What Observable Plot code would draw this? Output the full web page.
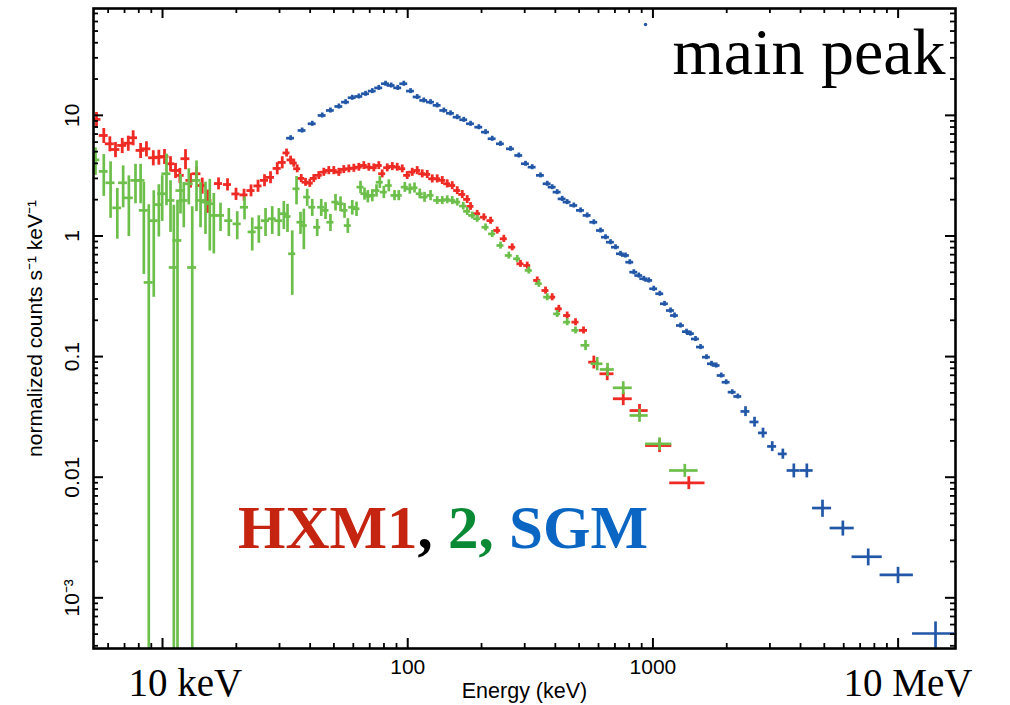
<!DOCTYPE html>
<html>
<head>
<meta charset="utf-8">
<script src="https://cdn.jsdelivr.net/npm/d3@7"></script>
<script src="https://cdn.jsdelivr.net/npm/@observablehq/plot@0.6"></script>
<style>
  html, body { margin: 0; padding: 0; background: #fff; }
  #chart { position: relative; width: 1010px; height: 705px; }
  #instruments {
    position: absolute; left: 238px; top: 497px;
    font: bold 61px "Liberation Serif", "Times New Roman", serif;
    line-height: 61px; white-space: nowrap;
  }
</style>
</head>
<body>
<div id="chart">
  <div id="instruments"><span style="color:#c42410">HXM1</span><span style="color:#000">, </span><span style="color:#0b8a36">2, </span><span style="color:#0a66c2">SGM</span></div>
</div>
<script>
// Main-peak spectra. Columns: energy (keV), half bin width (keV),
// normalized rate (counts s^-1 keV^-1), 1-sigma error.
const hxm1 = [
  [5.38,0.23,9.25,1.32],[5.76,0.24,6.81,0.97],[6.10,0.26,5.81,0.83],[6.43,0.27,5.21,0.75],
  [6.85,0.29,5.63,0.81],[7.25,0.30,5.88,0.84],[7.59,0.32,6.52,0.93],[8.14,0.34,5.12,0.73],
  [8.60,0.36,5.28,0.76],[9.17,0.39,4.45,0.64],[9.66,0.41,4.50,0.64],[10.19,0.43,4.56,0.65],
  [10.78,0.45,3.97,0.57],[11.30,0.47,3.49,0.50],[11.77,0.49,3.18,0.45],[12.41,0.52,4.37,0.83],
  [13.01,0.55,2.89,0.40],[13.76,0.58,3.28,0.46],[14.52,0.61,2.62,0.40],[15.26,0.64,1.97,0.43],
  [16.92,0.64,2.72,0.31],[18.41,0.70,2.67,0.31],[19.94,0.76,2.23,0.26],[21.50,0.82,2.19,0.25],
  [22.96,0.87,2.38,0.27],[24.52,0.93,2.60,0.30],[26.06,0.99,2.89,0.33],[27.57,1.05,3.06,0.35],
  [29.37,1.12,3.63,0.42],[30.78,1.17,4.07,0.47],[32.05,1.06,4.88,0.37],[33.30,1.10,4.27,0.32],
  [34.31,1.13,4.02,0.31],[35.43,1.17,3.61,0.27],[36.79,1.21,3.00,0.23],[38.30,1.26,2.79,0.21],
  [39.87,1.32,2.74,0.21],[41.40,1.37,3.00,0.23],[43.39,1.43,3.18,0.24],[45.48,1.50,3.38,0.26],
  [47.66,1.57,3.49,0.27],[49.95,1.65,3.49,0.27],[52.36,1.73,3.38,0.26],[54.87,1.81,3.56,0.27],
  [57.51,1.90,3.61,0.27],[60.28,1.99,3.65,0.28],[63.18,2.08,3.72,0.28],[66.22,2.19,3.84,0.29],
  [69.40,2.29,3.72,0.28],[72.74,2.40,3.68,0.28],[76.24,2.52,3.84,0.29],[78.70,2.60,3.28,0.25],
  [82.50,2.72,3.68,0.28],[86.50,2.85,3.77,0.29],[90.60,2.99,3.72,0.28],[95.00,3.14,3.61,0.27],
  [99.50,3.28,3.18,0.24],[104.3,3.44,3.38,0.26],[109.3,3.61,3.49,0.27],[114.6,3.78,3.28,0.25],
  [120.1,3.96,3.24,0.25],[125.9,4.15,2.98,0.23],[131.9,4.35,2.98,0.23],[138.3,4.56,2.89,0.22],
  [144.9,4.78,2.71,0.21],[151.9,5.01,2.62,0.20],[159.2,5.25,2.38,0.18],[166.9,5.51,2.21,0.17],
  [174.8,5.77,2.01,0.15],[180.4,5.95,1.76,0.13],[192.0,6.34,1.53,0.10],[204.4,6.75,1.43,0.096],
  [217.7,7.18,1.34,0.090],[231.7,7.65,1.11,0.074],[246.6,8.14,0.948,0.064],[266.8,8.8,0.807,0.054],
  [288.4,9.5,0.588,0.039],[307.2,10.1,0.569,0.038],[337.5,11.1,0.428,0.029],[364.8,12.0,0.353,0.024],
  [388.4,12.8,0.311,0.021],[413.3,13.6,0.249,0.017],[447.0,14.8,0.219,0.015],[483.4,16.0,0.193,0.013],
  [521.2,19.8,0.165,0.011],[574.1,27,0.0899,0.011],[651.2,43,0.0720,0.0089],[756.8,67,0.0447,0.0055],
  [881.8,75,0.0357,0.0044],[1064,130,0.0183,0.0023],[1401,230,0.00899,0.0011]
];

const hxm2 = [
  [5.33,0.22,4.28,1.10],[5.76,0.24,3.43,1.30],[6.14,0.26,2.76,1.36],[6.54,0.27,1.71,0.77],
  [6.91,0.29,2.76,1.05],[7.29,0.31,2.07,1.08],[7.76,0.33,2.89,1.04],[8.14,0.34,2.89,1.04],
  [8.39,0.35,1.63,1.15],[8.79,0.37,0.412,1.40],[9.21,0.39,1.34,1.03],[9.66,0.41,1.82,0.84],
  [9.97,0.42,2.24,0.92],[10.38,0.44,3.28,1.50],[10.78,0.45,1.97,0.90],[11.12,0.47,0.548,1.25],
  [11.51,0.48,0.918,1.06],[11.84,0.50,2.38,0.86],[12.21,0.51,1.97,0.80],[12.80,0.54,2.71,0.90],
  [13.22,0.56,0.548,1.20],[13.76,0.58,2.89,1.30],[14.29,0.60,1.97,0.80],[14.97,0.63,1.91,0.88],
  [15.59,0.65,1.85,1.10],[16.19,0.62,1.48,0.77],[17.24,0.66,1.48,0.39],[18.64,0.71,1.34,0.35],
  [20.17,0.77,1.26,0.33],[21.60,0.82,1.73,0.37],[23.22,0.88,1.08,0.33],[24.70,0.94,1.17,0.30],
  [26.31,1.00,1.34,0.35],[28.02,1.06,1.39,0.36],[29.81,1.13,1.34,0.35],[31.24,1.19,1.53,0.40],
  [32.34,1.07,1.45,0.38],[33.81,1.12,0.712,0.39],[35.20,1.16,2.46,0.65],[36.54,1.21,1.30,0.27],
  [37.70,1.24,1.22,0.45],[38.91,1.28,2.10,0.34],[40.80,1.35,1.73,0.28],[42.75,1.41,1.18,0.19],
  [44.38,1.46,1.73,0.28],[46.22,1.53,1.63,0.26],[48.40,1.60,1.30,0.21],[50.76,1.68,1.91,0.30],
  [53.20,1.76,1.85,0.26],[55.25,1.82,1.63,0.23],[56.99,1.88,1.22,0.17],[59.40,1.96,1.73,0.24],
  [61.83,2.04,1.68,0.23],[64.20,2.12,2.54,0.30],[66.66,2.20,2.24,0.26],[68.76,2.27,2.13,0.25],
  [71.70,2.37,2.17,0.25],[74.60,2.46,2.38,0.28],[76.96,2.54,2.79,0.32],[79.90,2.64,2.31,0.27],
  [83.72,2.76,2.62,0.30],[88.35,2.92,2.17,0.21],[91.95,3.03,2.17,0.21],[97.30,3.21,2.54,0.24],
  [102.0,3.37,2.46,0.24],[106.6,3.52,2.51,0.24],[112.0,3.70,2.24,0.21],[117.1,3.86,2.10,0.20],
  [123.9,4.09,2.17,0.21],[131.9,4.35,1.97,0.15],[138.3,4.56,1.97,0.15],[144.9,4.78,2.00,0.15],
  [151.9,5.01,1.97,0.15],[159.2,5.25,1.91,0.14],[168.4,5.56,1.77,0.13],[174.8,5.77,1.60,0.12],
  [183.2,6.05,1.48,0.10],[192.0,6.34,1.39,0.093],[207.7,6.85,1.18,0.079],[221.1,7.3,1.04,0.070],
  [239.0,7.9,0.834,0.056],[258.4,8.5,0.689,0.046],[279.6,9.2,0.647,0.043],[311.8,10.3,0.518,0.035],
  [342.6,11.3,0.402,0.027],[370.6,12.2,0.311,0.021],[407.0,13.4,0.226,0.015],[447.0,14.8,0.193,0.013],
  [483.4,16.0,0.165,0.011],[531.1,22,0.124,0.012],[592.7,33,0.0872,0.011],[653.0,43,0.0782,0.0097],
  [756.8,67,0.0551,0.0068],[881.8,75,0.0325,0.0040],[1064,130,0.0189,0.0023],[1349,180,0.01137,0.0014]
];

const sgm = [
  [33.3,1.23,6.47,0.31],[37.1,1.37,7.49,0.36],[40.8,1.51,8.52,0.41],[44.8,1.66,9.98,0.48],
  [48.4,1.79,10.98,0.53],[52.4,1.94,11.85,0.57],[55.8,2.06,12.87,0.62],[59.4,2.20,14.0,0.67],
  [63.2,2.34,14.35,0.69],[67.3,2.49,15.1,0.72],[71.7,2.65,15.9,0.76],[76.2,2.82,16.9,0.81],
  [81.2,3.0,18.3,0.88],[85.6,3.17,17.7,0.85],[91.1,3.37,16.9,0.81],[96.4,3.57,18.3,0.88],
  [102.7,3.8,15.9,0.76],[109.3,4.04,14.2,0.68],[116.3,4.3,13.3,0.64],[123.9,4.58,12.87,0.62],
  [131.9,4.88,12.1,0.58],[140.4,5.19,10.98,0.53],[149.5,5.53,10.4,0.50],[159.2,5.89,9.66,0.46],
  [169.3,6.26,9.19,0.44],[180.4,6.67,8.52,0.41],[195.0,7.2,7.98,0.38],[207.7,7.7,7.26,0.35],
  [221.1,8.2,6.40,0.31],[239.0,8.8,5.81,0.28],[262.6,9.7,5.28,0.25],[283.9,10.5,4.65,0.22],
  [302.3,11.2,3.97,0.19],[321.9,11.9,3.72,0.18],[348.0,12.9,3.18,0.15],[370.6,13.7,2.71,0.13],
  [388.4,14.4,2.54,0.12],[407.0,15.1,2.31,0.11],[426.6,15.8,2.03,0.10],[447.0,16.5,1.91,0.092],
  [475.8,17.6,1.79,0.086],[506.8,18.8,1.63,0.078],[539.5,20.0,1.48,0.071],[574.1,21.2,1.30,0.062],
  [611.4,22.6,1.11,0.053],[641.0,23.7,0.977,0.047],[671.6,24.8,0.888,0.043],[703.8,26.0,0.807,0.039],
  [737.5,27.3,0.712,0.034],[773.0,28.6,0.689,0.033],[805.0,29.8,0.606,0.029],[835.9,30.9,0.501,0.024],
  [876.0,32.4,0.470,0.023],[918.3,34.0,0.442,0.021],[962.0,35.6,0.428,0.021],[1008,37.3,0.365,0.018],
  [1067,39.5,0.332,0.016],[1115,41.3,0.274,0.013],[1180,43.7,0.241,0.012],[1225,45.3,0.219,0.011],
  [1296,48.0,0.181,0.0087],[1371,50.7,0.161,0.0077],[1423,52.7,0.155,0.0074],[1492,55.2,0.140,0.0067],
  [1564,57.9,0.120,0.0058],[1654,61.2,0.0989,0.0047],[1734,64.2,0.0872,0.0042],[1812,67.0,0.0844,0.0041],
  [1899,70.3,0.0697,0.0033],[1990,73.6,0.0613,0.0029],[2106,78,0.0507,0.0024],[2220,82,0.0467,0.0022],
  [2386,100,0.0351,0.0033],[2597,109,0.0287,0.0027],[2812,118,0.0233,0.0022],[3066,129,0.0180,0.0017],
  [3387,142,0.0156,0.0015],[3755,229,0.01137,0.0015],[4243,259,0.01137,0.0015],[4916,438,0.00555,0.0009],
  [5951,672,0.00379,0.00054],[7552,1065,0.00219,0.00035],[9991,1549,0.00155,0.00024],[14210,2760,0.000506,0.000125]
];

// a lone high SGM bin near 1 MeV
const sgmStray = [[933, 56.7]];

const xTickLabels = [100, 1000];
const yTickLabels = [[10, "10"], [1, "1"], [0.1, "0.1"], [0.01, "0.01"], [0.001, "10⁻³"]];

const xDomain = [5.23, 17140];
const yDomain = [3.8e-4, 76.9];

const RED = "#ee2a24", GREEN = "#6dbf4b", BLUE = "#2257a7";
const SANS = '"Liberation Sans", Arial, Helvetica, sans-serif';
const SERIF = '"Liberation Serif", "Times New Roman", serif';

const W = 1010, H = 705;
const M = {top: 8, right: 55, bottom: 57, left: 93};
const plotW = W - M.left - M.right, plotH = H - M.top - M.bottom;

const toRows = (arr) => arr.map(([e, de, r, dr]) => ({
  e, lo: e - de, hi: e + de, r,
  rlo: Math.max(r - dr, yDomain[0]), rhi: r + dr
}));

// energy bar + rate error bar for every bin
const crosses = (rows, color, sw) => [
  Plot.ruleY(rows, {y: "r", x1: "lo", x2: "hi", stroke: color, strokeWidth: sw, clip: true}),
  Plot.ruleX(rows, {x: "e", y1: "rlo", y2: "rhi", stroke: color, strokeWidth: sw, clip: true})
];

const inRange = (v, [a, b]) => v > a * 1.0001 && v < b * 0.9999;
const xMajor = [10, 100, 1000, 10000];
const xMinor = [1, 10, 100, 1000, 10000]
  .flatMap(d => d3.range(2, 10).map(k => k * d)).filter(v => inRange(v, xDomain));
const yMajor = [0.001, 0.01, 0.1, 1, 10];
const yMinor = [0.0001, 0.001, 0.01, 0.1, 1, 10]
  .flatMap(d => d3.range(2, 10).map(k => k * d)).filter(v => inRange(v, yDomain));

// inward ticks on all four sides
const MAJ = 10, MIN = 5;
const ticks = [
  Plot.tickX(xMajor, {x: d => d, insetTop: plotH - MAJ, strokeWidth: 2}),
  Plot.tickX(xMajor, {x: d => d, insetBottom: plotH - MAJ, strokeWidth: 2}),
  Plot.tickX(xMinor, {x: d => d, insetTop: plotH - MIN, strokeWidth: 1.8}),
  Plot.tickX(xMinor, {x: d => d, insetBottom: plotH - MIN, strokeWidth: 1.8}),
  Plot.tickY(yMajor, {y: d => d, insetRight: plotW - MAJ, strokeWidth: 2}),
  Plot.tickY(yMajor, {y: d => d, insetLeft: plotW - MAJ, strokeWidth: 2}),
  Plot.tickY(yMinor, {y: d => d, insetRight: plotW - MIN, strokeWidth: 1.8}),
  Plot.tickY(yMinor, {y: d => d, insetLeft: plotW - MIN, strokeWidth: 1.8})
];

const chart = Plot.plot({
  width: W, height: H,
  marginTop: M.top, marginRight: M.right, marginBottom: M.bottom, marginLeft: M.left,
  style: {fontFamily: SANS, background: "#fff", overflow: "visible"},
  x: {type: "log", domain: xDomain, axis: null},
  y: {type: "log", domain: yDomain, axis: null},
  marks: [
    ...crosses(toRows(hxm1), RED, 2.8),
    ...crosses(toRows(hxm2), GREEN, 2.7),
    ...crosses(toRows(sgm), BLUE, 2.7),
    Plot.dot(sgmStray, {x: d => d[0], y: d => d[1], r: 1.7, fill: BLUE, stroke: null}),
    ...ticks,
    Plot.frame({stroke: "#000", strokeWidth: 2.6}),
    // tick labels
    Plot.text(xTickLabels, {x: d => d, text: d => String(d), frameAnchor: "bottom",
      dy: 25, lineAnchor: "bottom", fontSize: 21, fill: "#000"}),
    Plot.text(yTickLabels, {y: d => d[0], text: d => d[1], frameAnchor: "left",
      dx: -15, rotate: -90, textAnchor: "middle", lineAnchor: "bottom", fontSize: 21, fill: "#000"}),
    // axis titles
    Plot.text(["Energy (keV)"], {text: d => d, frameAnchor: "bottom", dy: 49,
      lineAnchor: "bottom", fontSize: 21.5, fill: "#000"}),
    Plot.text(["normalized counts s⁻¹ keV⁻¹"], {text: d => d, frameAnchor: "left", dx: -52,
      rotate: -90, textAnchor: "middle", lineAnchor: "bottom", fontSize: 21, fill: "#000"}),
    // annotations
    Plot.text(["main peak"], {text: d => d, frameAnchor: "top-right", dx: -10, dy: 65,
      textAnchor: "end", lineAnchor: "bottom", fontFamily: SERIF, fontSize: 66, fill: "#000"}),
    Plot.text(["10 keV"], {text: d => d, frameAnchor: "bottom-left", dx: 35, dy: 47,
      textAnchor: "start", lineAnchor: "bottom", fontFamily: SERIF, fontSize: 39, fill: "#000"}),
    Plot.text(["10 MeV"], {text: d => d, frameAnchor: "bottom-right", dx: 17, dy: 47,
      textAnchor: "end", lineAnchor: "bottom", fontFamily: SERIF, fontSize: 39, fill: "#000"})
  ]
});

document.getElementById("chart").prepend(chart);
</script>
</body>
</html>
